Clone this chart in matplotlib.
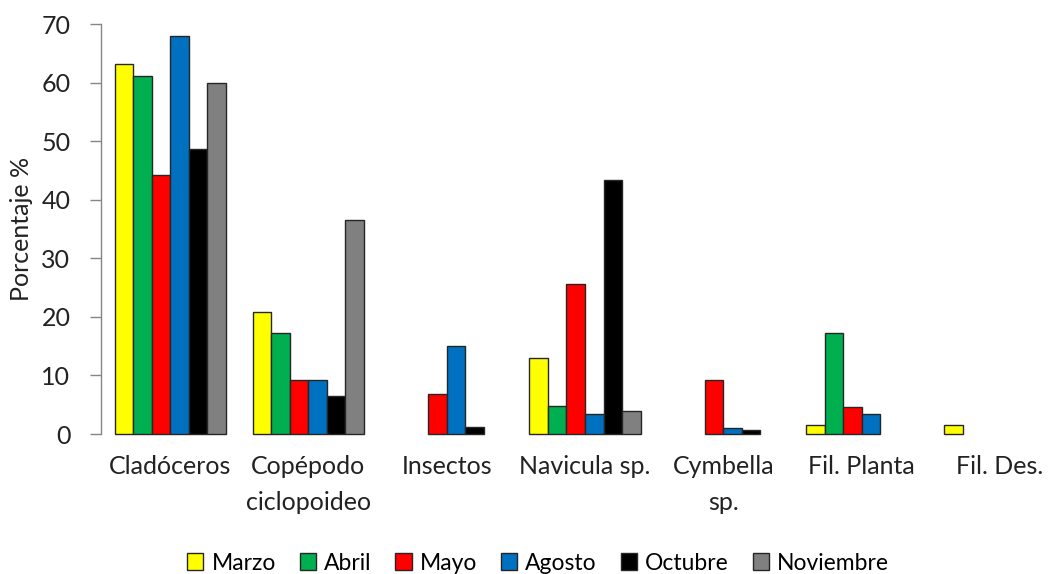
import matplotlib
matplotlib.use("Agg")
import matplotlib.pyplot as plt
import numpy as np

plt.rcParams['font.family'] = ['Lato', 'DejaVu Sans']

categories = ["Cladóceros", "Copépodo\nciclopoideo", "Insectos", "Navicula sp.",
              "Cymbella\nsp.", "Fil. Planta", "Fil. Des."]
series_names = ["Marzo", "Abril", "Mayo", "Agosto", "Octubre", "Noviembre"]
marzo = [63.2, 20.9, 0, 13.0, 0, 1.6, 1.6]
abril = [61.2, 17.3, 0, 4.8, 0, 17.2, 0]
mayo = [44.3, 9.3, 6.9, 25.6, 9.2, 4.6, 0]
agosto = [68.0, 9.3, 15.1, 3.5, 1.1, 3.5, 0]
octubre = [48.7, 6.5, 1.25, 43.4, 0.7, 0, 0]
noviembre = [59.9, 36.5, 0, 3.9, 0, 0, 0]
yticks = [0, 10, 20, 30, 40, 50, 60, 70]

series = [marzo, abril, mayo, agosto, octubre, noviembre]
colors = ["#FFFF00", "#00B050", "#FF0000", "#0070C0", "#000000", "#808080"]

fig = plt.figure(figsize=(10.5, 5.74), dpi=100)
ax = fig.add_axes([101/1050, 140/574, 968/1050, 410/574])

x = np.arange(len(categories))
w = 0.1338
handles = []
for i, (vals, c, name) in enumerate(zip(series, colors, series_names)):
    vals = np.array(vals, dtype=float)
    mask = vals > 0
    b = ax.bar(x[mask] + (i - 2.5) * w, vals[mask], width=w, color=c,
               edgecolor="#262626", linewidth=1.0, label=name, clip_on=False)
    handles.append(b)

ax.set_xlim(-0.5, len(categories) - 0.5)
ax.set_ylim(0, 70)
ax.set_yticks(yticks)
ax.set_xticks(x)
ax.set_xticklabels(categories, fontsize=18, color="#222222", linespacing=1.7, va="top")
ax.tick_params(axis='x', length=0, pad=15)
ax.tick_params(axis='y', length=8, width=1, color="#868686", labelsize=18,
               labelcolor="#222222", pad=14, direction='out')
for s in ["top", "right", "bottom"]:
    ax.spines[s].set_visible(False)
ax.spines["left"].set_color("#868686")
ax.spines["left"].set_linewidth(1)
ax.set_ylabel("Porcentaje %", fontsize=18, color="#222222", labelpad=6)

fig.legend(handles=handles, labels=series_names, loc="center",
           bbox_to_anchor=(538/1050, 11/574), ncol=6, frameon=False,
           fontsize=16.5, handlelength=0.7, handleheight=0.7,
           handletextpad=0.35, columnspacing=1.05)

fig.savefig("out.png", dpi=100)
